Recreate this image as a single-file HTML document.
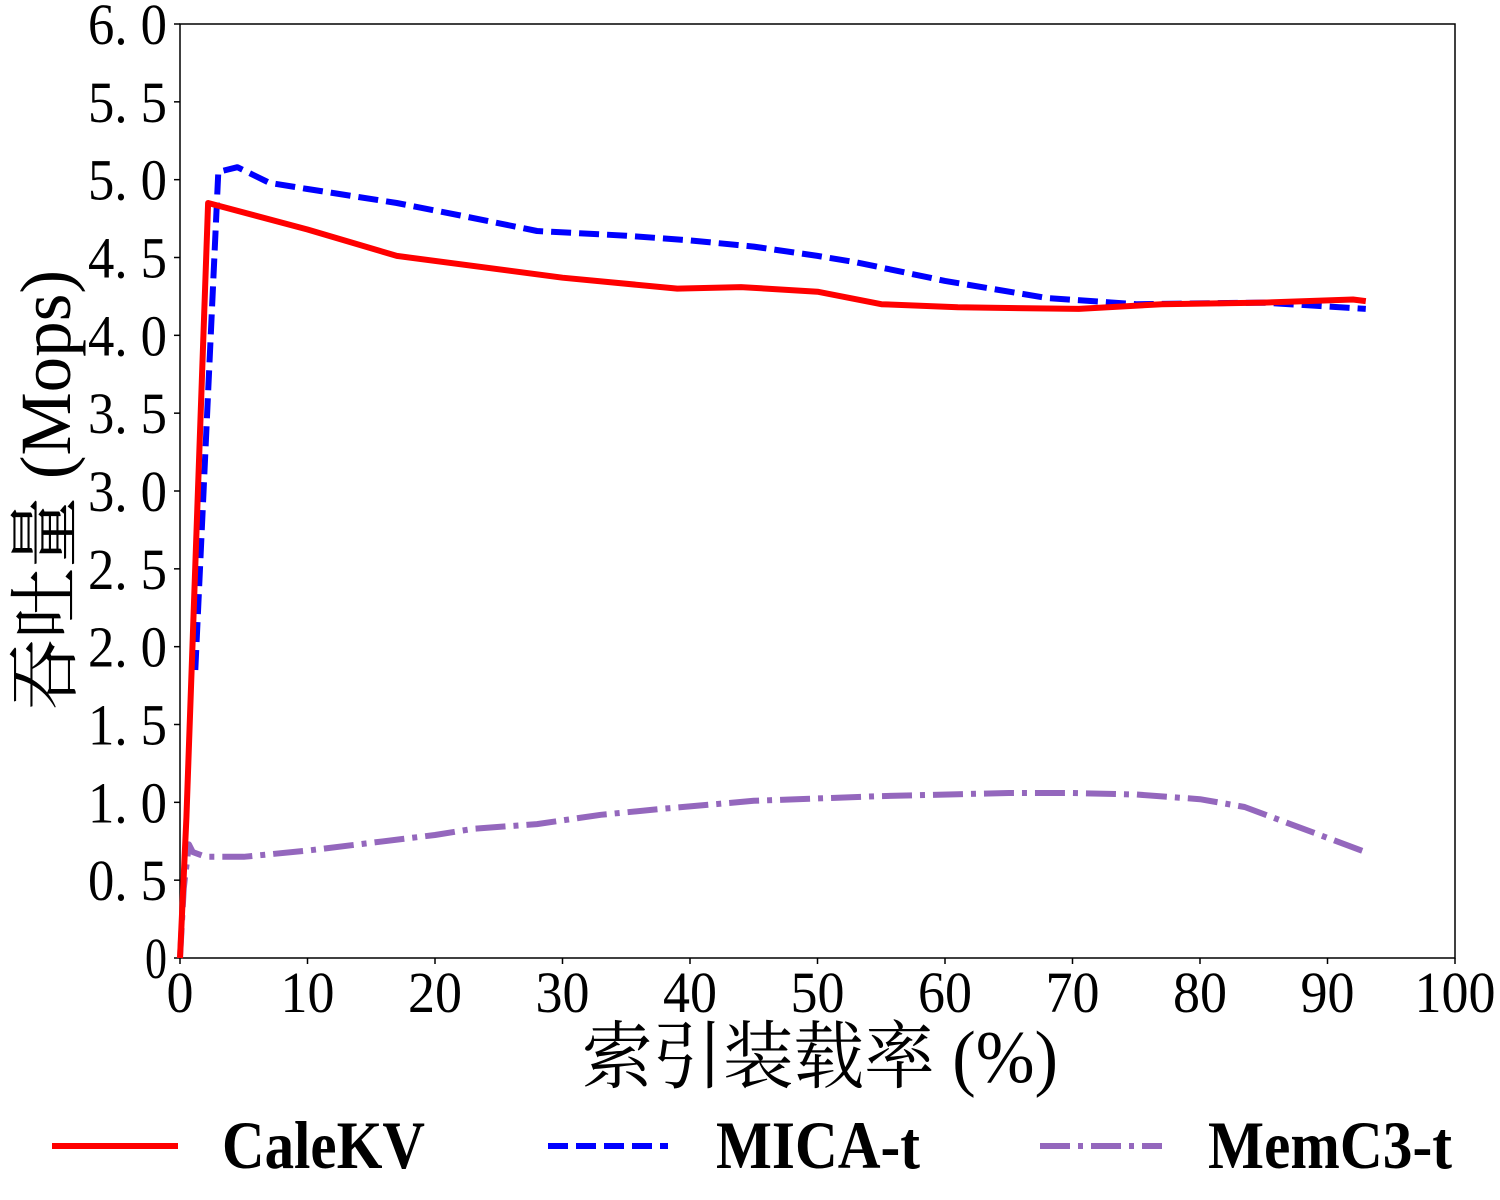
<!DOCTYPE html>
<html><head><meta charset="utf-8"><style>
html,body{margin:0;padding:0;background:#fff;}
svg{display:block;}
text{font-family:"Liberation Serif","Noto Serif CJK SC",serif;fill:#000;}
</style></head><body>
<svg id="chart" width="1500" height="1200" viewBox="0 0 1500 1200" xmlns="http://www.w3.org/2000/svg">
<rect x="180" y="24" width="1275" height="934" fill="#fff" stroke="#000" stroke-width="1.5"/>
<g id="yticks"></g>
<g id="xticks"></g>
<g id="series"></g>
<text transform="translate(70,490) rotate(-90)" text-anchor="middle" font-size="72" textLength="440" lengthAdjust="spacingAndGlyphs">吞吐量 (Mops)</text>
<text x="820" y="1082" text-anchor="middle" font-size="74" textLength="476" lengthAdjust="spacingAndGlyphs">索引装载率 (%)</text>
<g>
<line x1="52" y1="1146" x2="178" y2="1146" stroke="#ff0000" stroke-width="6"/>
<text x="222" y="1168" font-size="68" font-weight="bold" textLength="203" lengthAdjust="spacingAndGlyphs">CaleKV</text>
<line x1="548" y1="1146" x2="668" y2="1146" stroke="#0000ff" stroke-width="6" stroke-dasharray="20,8"/>
<text x="716" y="1168" font-size="68" font-weight="bold" textLength="204" lengthAdjust="spacingAndGlyphs">MICA-t</text>
<line x1="1040" y1="1146" x2="1162" y2="1146" stroke="#9467bd" stroke-width="6" stroke-dasharray="30,8,5,8"/>
<text x="1208" y="1168" font-size="68" font-weight="bold" textLength="244" lengthAdjust="spacingAndGlyphs">MemC3-t</text>
</g>
</svg>
<script>
const yTickVals = [0,0.5,1.0,1.5,2.0,2.5,3.0,3.5,4.0,4.5,5.0,5.5,6.0];
const yTickLabels = ["0","0. 5","1. 0","1. 5","2. 0","2. 5","3. 0","3. 5","4. 0","4. 5","5. 0","5. 5","6. 0"];
const xTickVals = [0,10,20,30,40,50,60,70,80,90,100];
const xTickLabels = ["0","10","20","30","40","50","60","70","80","90","100"];
const calekvX = [0,0.5,2.2,10,17,30,39,44,50,55,61,70.5,77,85,92,93];
const calekvY = [0,0.9,4.85,4.68,4.51,4.37,4.30,4.31,4.28,4.20,4.18,4.17,4.20,4.21,4.23,4.22];
const micaX = [1.2,3,4.5,7,10,17,22,28,35,40,45,50,53,60,68,75,85,93];
const micaY = [1.85,5.05,5.08,4.98,4.94,4.85,4.77,4.67,4.64,4.61,4.57,4.51,4.47,4.35,4.24,4.20,4.21,4.17];
const memc3X = [0,0.3,0.7,1,2,5,10,15,20,23,28,33,38,45,55,65,70,75,80,83.5,93];
const memc3Y = [0,0.45,0.73,0.68,0.65,0.65,0.69,0.74,0.79,0.83,0.86,0.92,0.96,1.01,1.04,1.06,1.06,1.05,1.02,0.97,0.68];

const NS = "http://www.w3.org/2000/svg";
function sx(v){return 180 + v/100*1275;}
function sy(v){return 958 - v/6*934;}
function mk(tag, attrs){const e=document.createElementNS(NS,tag);for(const k in attrs)e.setAttribute(k,attrs[k]);return e;}

const yg=document.getElementById('yticks');
yTickVals.forEach((v,i)=>{
  const t=mk('line',{x1:174,x2:180,y1:sy(v),y2:sy(v),stroke:'#000','stroke-width':1.5});
  
  
  yg.appendChild(t);
  const lab=yTickLabels[i];
  const attrs={x:167,y:sy(v)+20,'text-anchor':'end','font-size':58};
  if(lab.length>1){attrs.textLength=79;attrs.lengthAdjust='spacingAndGlyphs';}
  else{attrs.textLength=22;attrs.lengthAdjust='spacingAndGlyphs';}
  const tx=mk('text',attrs);tx.textContent=lab;
  
  
  yg.appendChild(tx);
});
const xg=document.getElementById('xticks');
xTickVals.forEach((v,i)=>{
  const t=mk('line',{x1:sx(v),x2:sx(v),y1:958,y2:964,stroke:'#000','stroke-width':1.5});
  
  
  xg.appendChild(t);
  const lab=xTickLabels[i];
  const tx=mk('text',{x:sx(v),y:1012,'text-anchor':'middle','font-size':58,textLength:lab.length*27,lengthAdjust:'spacingAndGlyphs'});
  tx.textContent=lab;
  
  
  xg.appendChild(tx);
});
function line(xs,ys,color,dash,name){
  const pts=xs.map((x,i)=>sx(x).toFixed(1)+','+sy(ys[i]).toFixed(1)).join(' ');
  const p=mk('polyline',{points:pts,fill:'none',stroke:color,'stroke-width':6,'stroke-linejoin':'round'});
  if(dash)p.setAttribute('stroke-dasharray',dash);
  
  
  document.getElementById('series').appendChild(p);
}
line(memc3X,memc3Y,'#9467bd','30,8,5,8','memc3-line');
line(micaX,micaY,'#0000ff','20,8','mica-line');
line(calekvX,calekvY,'#ff0000',null,'calekv-line');
</script>
</body></html>
